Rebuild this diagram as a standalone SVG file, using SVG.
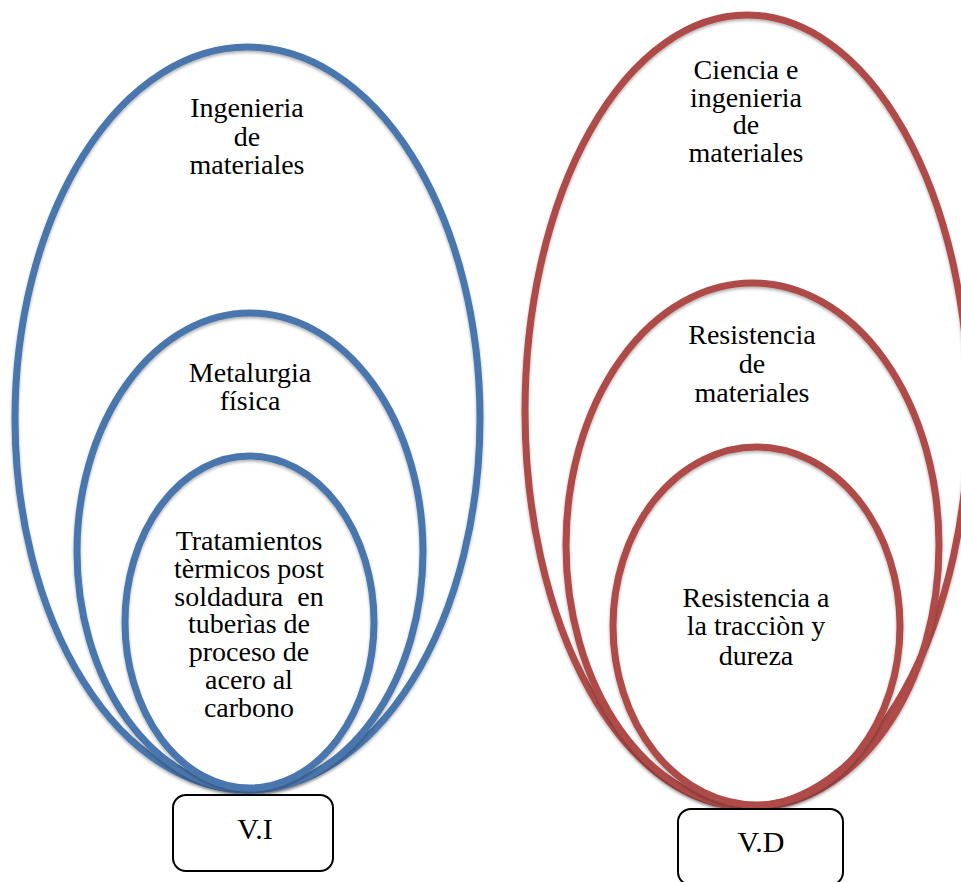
<svg xmlns="http://www.w3.org/2000/svg" width="961" height="882" viewBox="0 0 961 882">
<defs>
<style>
.blue{fill:none;stroke:#4a76ad;stroke-width:7}
.red{fill:none;stroke:#ae4b48;stroke-width:7}
.t{font-family:"Liberation Serif","Times New Roman",serif;font-size:28px;fill:#000;text-anchor:middle;white-space:pre}
.box{fill:#fff;stroke:#000;stroke-width:2}
.bt{font-family:"Liberation Serif","Times New Roman",serif;font-size:30px;fill:#000;text-anchor:middle}
</style>
<filter id="sh" x="-10%" y="-10%" width="120%" height="120%">
<feDropShadow dx="0" dy="2" stdDeviation="1.5" flood-color="#000" flood-opacity="0.3"/>
</filter>
</defs>
<rect width="961" height="882" fill="#fff"/>
<g id="connectors"/>
<g id="ing-materiales">
<ellipse class="blue" filter="url(#sh)" cx="247.5" cy="418.5" rx="232.5" ry="371.5"/>
<text class="t" x="247" y="117">Ingenieria</text>
<text class="t" x="247" y="146">de</text>
<text class="t" x="247" y="174">materiales</text>
</g>
<g id="metalurgia">
<ellipse class="blue" filter="url(#sh)" cx="250" cy="551.5" rx="173" ry="238.5"/>
<text class="t" x="250" y="382">Metalurgia</text>
<text class="t" x="250" y="410">física</text>
</g>
<g id="tratamientos">
<ellipse class="blue" filter="url(#sh)" cx="249.5" cy="622" rx="124.5" ry="166"/>
<text class="t" x="249" y="550">Tratamientos</text>
<text class="t" x="249" y="578">tèrmicos post</text>
<text class="t" x="249" y="606">soldadura  en</text>
<text class="t" x="249" y="633">tuberìas de</text>
<text class="t" x="249" y="661">proceso de</text>
<text class="t" x="249" y="689">acero al</text>
<text class="t" x="249" y="717">carbono</text>
</g>
<g id="vi">
<rect class="box" x="173" y="795" width="160" height="76" rx="13"/>
<text class="bt" x="255" y="839">V.I</text>
</g>
<g id="ciencia">
<ellipse class="red" filter="url(#sh)" cx="747" cy="411" rx="222" ry="396"/>
<text class="t" x="746" y="79">Ciencia e</text>
<text class="t" x="746" y="107">ingenieria</text>
<text class="t" x="746" y="134">de</text>
<text class="t" x="746" y="162">materiales</text>
</g>
<g id="resistencia-materiales">
<ellipse class="red" filter="url(#sh)" cx="752.5" cy="545" rx="186.5" ry="262"/>
<text class="t" x="752" y="344">Resistencia</text>
<text class="t" x="752" y="373">de</text>
<text class="t" x="752" y="402">materiales</text>
</g>
<g id="resistencia-traccion">
<ellipse class="red" filter="url(#sh)" cx="756.5" cy="626" rx="143.5" ry="179"/>
<text class="t" x="756" y="607">Resistencia a</text>
<text class="t" x="756" y="635">la tracciòn y</text>
<text class="t" x="756" y="665">dureza</text>
</g>
<g id="vd">
<rect class="box" x="678" y="809" width="165" height="76" rx="13"/>
<text class="bt" x="761" y="852">V.D</text>
</g>
</svg>
